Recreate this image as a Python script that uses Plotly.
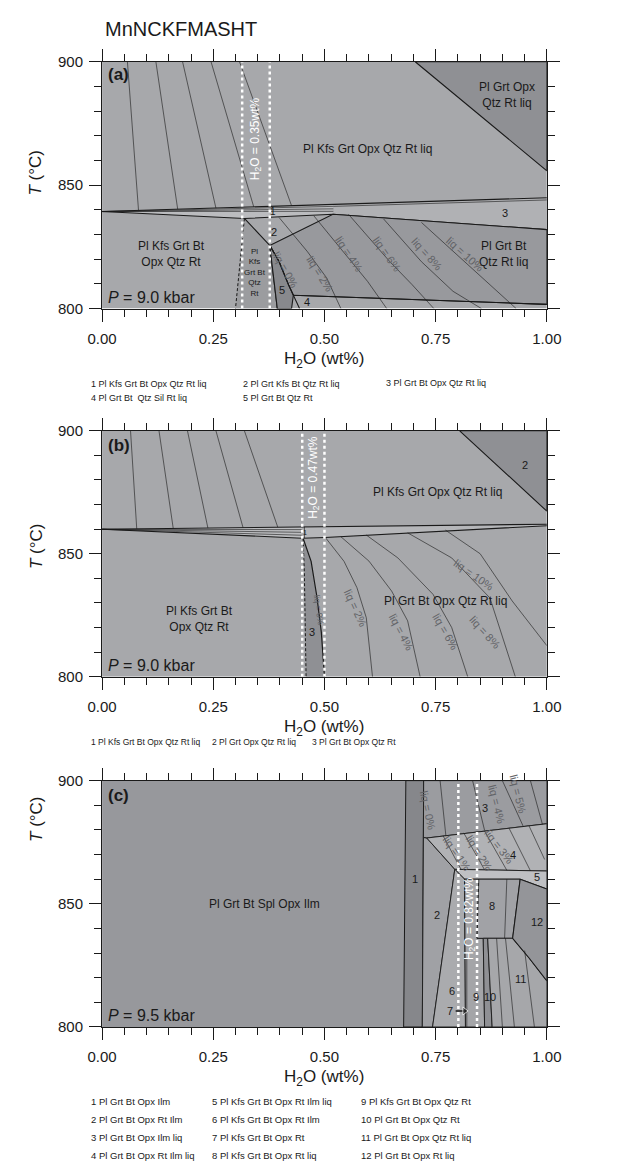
import plotly.graph_objects as go

W, H = 618, 1170
FONT = "Liberation Sans, Arial, Helvetica, sans-serif"

# ---------------- tick labels ----------------
X_TICKS = [0.0, 0.25, 0.5, 0.75, 1.0]
X_TICK_TEXT = ["0.00", "0.25", "0.50", "0.75", "1.00"]
T_TICKS = [800, 850, 900]

# ---------------- panel (a) data: (H2O wt%, T °C) ----------------
A_OPX_FIELD = [(0.704, 900), (1, 900), (1, 855.8)]
A_BAND_LEFT = [(0, 839.3), (0.30, 841.0), (0.52, 842.2), (0.519, 838.2), (0.32, 836.5)]
A_FIELD3 = [(0.519, 838.2), (0.52, 842.2), (1, 844.9), (1, 832)]
A_TOP_LINE = [(0, 839.3), (1, 844.9)]
A_BASE_LINE = [(0, 839.3), (0.32, 836.5), (0.519, 838.2), (1, 832)]
A_BAND_LINES = [
    [(0, 839.3), (0.52, 841.4), (1, 844.0)],
    [(0, 839.3), (0.52, 840.4)],
    [(0, 839.3), (0.52, 839.4)],
]
A_KFS_BT = [(0.32, 836.5), (0.377, 825.6), (0.394, 800), (0.30, 800)]
A_FIELD5 = [(0.377, 825.6), (0.394, 800), (0.426, 800), (0.43, 805.4), (0.419, 809.7), (0.398, 819)]
A_GRT_BT_LIQ = [(0.377, 825.6), (0.519, 838.2), (1, 832), (1, 801.7), (0.43, 805.4),
                (0.419, 809.7), (0.398, 819)]
A_LIQ0 = [(0.377, 825.6), (0.398, 819), (0.419, 809.7), (0.43, 805.4), (0.444, 800)]
A_FIELD4_TOP = [(0.43, 805.4), (1, 801.7)]
A_UPPER_ISO = [
    [(0.057, 900), (0.082, 839.8)],
    [(0.121, 900), (0.170, 840.3)],
    [(0.181, 900), (0.256, 840.7)],
    [(0.245, 900), (0.341, 841.2)],
    [(0.309, 900), (0.426, 841.7)],
]
A_LOWER_ISO = [
    [(0.398, 836.9), (0.462, 823), (0.505, 812.4), (0.537, 800)],
    [(0.476, 837.6), (0.554, 820.3), (0.597, 811), (0.640, 800)],
    [(0.554, 838.2), (0.647, 819), (0.697, 809.7), (0.746, 800)],
    [(0.633, 836.3), (0.718, 819), (0.789, 807), (0.853, 800)],
    [(0.718, 834.9), (0.824, 817.7), (0.896, 805.7), (0.931, 800)],
]
A_DOTTED = [0.315, 0.377]
A_LIQ_LABELS = [("liq = 0%", 0.412, 815.5, 60), ("liq = 2%", 0.49, 814, 58),
                ("liq = 4%", 0.555, 822, 56), ("liq = 6%", 0.64, 822, 55),
                ("liq = 8%", 0.73, 822, 48), ("liq = 10%", 0.815, 822, 42)]
A_LABELS = [("Pl Grt Opx<br>Qtz Rt liq", 0.91, 886.5, 12), ("Pl Kfs Grt Opx Qtz Rt liq", 0.597, 864.5, 12),
            ("3", 0.906, 838.7, 11), ("1", 0.384, 839.2, 10), ("2", 0.386, 831, 11),
            ("Pl Kfs Grt Bt<br>Opx Qtz Rt", 0.156, 822.3, 12),
            ("5", 0.404, 807.5, 11), ("4", 0.46, 802.6, 11),
            ("Pl Grt Bt<br>Qtz Rt liq", 0.902, 822.3, 12)]
A_SMALL_LABEL = ("Pl<br>Kfs<br>Grt Bt<br>Qtz<br>Rt", 0.343, 814.5)

# ---------------- panel (b) data ----------------
B_OPX_FIELD = [(0.804, 900), (1, 900), (1, 867.3)]
B_BAND_LEFT = [(0, 859.95), (0.45, 860.9), (0.45, 856.3)]
B_BAND_RIGHT = [(0.455, 860.9), (1, 862.0), (1, 861.4), (0.502, 856.6), (0.455, 856.4)]
B_BAND_LINES = [[(0, 859.95), (0.45, 857.5)], [(0, 859.95), (0.45, 858.7)],
                [(0, 859.95), (0.45, 859.8)], [(0.45, 856.3), (0.455, 856.4), (0.455, 860.9)]]
B_TOP_LINE = [(0, 859.95), (1, 862.0)]
B_BASE_LINE = [(0, 859.95), (0.45, 856.3), (0.502, 856.6), (1, 861.4)]
B_FIELD3 = [(0.452, 856.3), (0.4547, 843), (0.4587, 800), (0.50, 800), (0.493, 818),
            (0.483, 832.5), (0.47, 846.9)]
B_UPPER_ISO = [
    [(0.064, 900), (0.078, 860.1)],
    [(0.128, 900), (0.160, 860.3)],
    [(0.192, 900), (0.238, 860.4)],
    [(0.256, 900), (0.317, 860.6)],
    [(0.320, 900), (0.395, 860.8)],
]
B_LOWER_ISO = [
    [(0.502, 856.6), (0.544, 846.9), (0.573, 836.2), (0.594, 824), (0.608, 800)],
    [(0.537, 856.9), (0.600, 847), (0.651, 834.8), (0.687, 822.7), (0.715, 800)],
    [(0.594, 857.6), (0.665, 848.3), (0.744, 833.5), (0.786, 820), (0.822, 800)],
    [(0.687, 858.5), (0.786, 848.3), (0.872, 832), (0.929, 800)],
    [(0.772, 859.6), (0.85, 850), (0.922, 830.8), (1, 812.6)],
]
B_DOTTED = [0.45, 0.50]
B_LIQ_LABELS = [("liq = 0%", 0.487, 827, 82), ("liq = 2%", 0.57, 828, 65),
                ("liq = 4%", 0.672, 818, 62), ("liq = 6%", 0.772, 818, 60),
                ("liq = 8%", 0.86, 818, 48), ("liq = 10%", 0.836, 841.5, 35)]
B_LABELS = [("2", 0.95, 885.9, 11), ("Pl Kfs Grt Opx Qtz Rt liq", 0.754, 874.9, 12),
            ("Pl Grt Bt Opx Qtz Rt liq", 0.772, 830.8, 12),
            ("Pl Kfs Grt Bt<br>Opx Qtz Rt", 0.22, 823.4, 12), ("3", 0.473, 818, 11)]

# ---------------- panel (c) data ----------------
C_STRIP1 = [(0.683, 900), (0.723, 900), (0.72, 800), (0.678, 800)]
C_FIELD3 = [(0.723, 900), (1, 900), (1, 882.5), (0.73, 876.7), (0.7225, 876.9)]
C_FIELD4 = [(0.73, 876.7), (1, 882.5), (1, 863.3), (0.793, 864)]
C_FIELD2 = [(0.7225, 876.9), (0.73, 876.7), (0.793, 864), (0.743, 800), (0.72, 800)]
C_FIELD5 = [(0.793, 864), (1, 863.3), (1, 856), (0.94, 860), (0.815, 860)]
C_FIELD6 = [(0.793, 864), (0.815, 860), (0.817, 800), (0.743, 800)]
C_FIELD9 = [(0.815, 860), (0.847, 860), (0.843, 836), (0.857, 836), (0.86, 800), (0.817, 800)]
C_FIELD8 = [(0.847, 860), (0.94, 860), (0.923, 836), (0.843, 836)]
C_FIELD10 = [(0.857, 836), (0.867, 836), (0.877, 800), (0.86, 800)]
C_FIELD11 = [(0.867, 836), (0.923, 836), (0.96, 828), (1, 818.7), (1, 800), (0.877, 800)]
C_FIELD12 = [(0.94, 860), (1, 856), (1, 818.7), (0.96, 828), (0.923, 836)]
C_ISO = [
    [(0.76, 900), (0.773, 877.6)],
    [(0.833, 900), (0.86, 879.8)],
    [(0.90, 900), (0.947, 881.4)],
    [(0.963, 900), (0.99, 882.3)],
    [(0.767, 877.5), (0.807, 864)],
    [(0.813, 878.8), (0.86, 863.8)],
    [(0.86, 879.5), (0.91, 863.6)],
    [(0.915, 880.7), (0.963, 863.4)],
    [(0.96, 881.6), (0.995, 868)],
    [(0.82, 828), (0.82, 800)],
    [(0.91, 860), (0.905, 836)],
    [(0.887, 836), (0.90, 800)],
    [(0.907, 836), (0.927, 800)],
    [(0.95, 831), (0.972, 800)],
]
C_DOTTED = [0.801, 0.843]
C_ARROW = [(0.795, 806.5), (0.815, 806.5)]
C_LIQ_LABELS = [("liq = 0%", 0.732, 888, 78), ("liq = 1%", 0.797, 870.5, 55),
                ("liq = 2%", 0.847, 870.5, 58), ("liq = 3%", 0.893, 873, 52),
                ("liq = 4%", 0.887, 890.5, 76), ("liq = 5%", 0.935, 894.5, 76)]
C_LABELS = [("Pl Grt Bt Spl Opx Ilm", 0.365, 850, 12), ("1", 0.703, 860, 11), ("2", 0.753, 845.6, 11),
            ("3", 0.86, 888.7, 11), ("4", 0.923, 870, 11), ("5", 0.977, 860.7, 11),
            ("6", 0.787, 814.7, 11), ("7", 0.782, 806.5, 11), ("8", 0.877, 849.3, 11),
            ("9", 0.84, 812, 11), ("10", 0.873, 812, 11), ("11", 0.94, 819.3, 11),
            ("12", 0.977, 842.7, 11)]

# ---------------- legends below panels (screen px) ----------------
LEG_A = [("1 Pl Kfs Grt Bt Opx Qtz Rt liq", 78, 381), ("2 Pl Grt Kfs Bt Qtz Rt liq", 238, 381),
         ("3 Pl Grt Bt Opx Qtz Rt liq", 388, 380), ("4 Pl Grt Bt  Qtz Sil Rt liq", 78, 395),
         ("5 Pl Grt Bt Qtz Rt", 238, 395)]
LEG_B = [("1 Pl Kfs Grt Bt Opx Qtz Rt liq", 78, 744), ("2 Pl Grt Opx Qtz Rt liq", 205, 744),
         ("3 Pl Grt Bt Opx Qtz Rt", 310, 744)]
LEG_C = [("1 Pl Grt Bt Opx Ilm", 78, 1109), ("2 Pl Grt Bt Opx Rt Ilm", 78, 1127),
         ("3 Pl Grt Bt Opx Ilm liq", 78, 1145), ("4 Pl Grt Bt Opx Rt Ilm liq", 78, 1163),
         ("5 Pl Kfs Grt Bt Opx Rt Ilm liq", 205, 1109), ("6 Pl Kfs Grt Bt Opx Rt Ilm", 205, 1127),
         ("7 Pl Kfs Grt Bt Opx Rt", 205, 1145), ("8 Pl Kfs Grt Bt Opx Rt liq", 205, 1163),
         ("9 Pl Kfs Grt Bt Opx Qtz Rt", 362, 1109), ("10 Pl Grt Bt Opx Qtz Rt", 362, 1127),
         ("11 Pl Grt Bt Opx Qtz Rt liq", 362, 1145), ("12 Pl Grt Bt Opx Rt liq", 362, 1163)]

# ---------------- layout geometry (screen pixels) ----------------
X0, X1 = 91.5, 559
PANEL_Y = {"a": (53.5, 304), "b": (428, 677.5), "c": (783, 1033)}
YTITLE_Y = {"a": 166, "b": 545, "c": 822}
AXES = {"a": ("x", "y"), "b": ("x2", "y2"), "c": ("x3", "y3")}


def px_x(px):
    return px / W


def px_y(py):
    return 1 - py / H


fig = go.Figure()
annotations = []


def add_poly(p, pts, color, lw=0.9, dash=None):
    xr, yr = AXES[p]
    xs = [q[0] for q in pts] + [pts[0][0]]
    ys = [q[1] for q in pts] + [pts[0][1]]
    fig.add_trace(go.Scatter(x=xs, y=ys, xaxis=xr, yaxis=yr, mode="lines", fill="toself",
                             fillcolor=color, line=dict(color="#1a1a1a", width=lw, dash=dash),
                             hoverinfo="skip", showlegend=False))


def add_line(p, pts, lw=0.7, color="#1a1a1a", dash=None):
    xr, yr = AXES[p]
    fig.add_trace(go.Scatter(x=[q[0] for q in pts], y=[q[1] for q in pts], xaxis=xr, yaxis=yr,
                             mode="lines", line=dict(color=color, width=lw, dash=dash),
                             hoverinfo="skip", showlegend=False))


def add_text(p, text, x, y, size=11, color="#1a1a1a", angle=0, **kw):
    xr, yr = AXES[p]
    annotations.append(dict(text=text, x=x, y=y, xref=xr, yref=yr, showarrow=False,
                            textangle=angle, font=dict(family=FONT, size=size, color=color), **kw))


def paper_text(text, px, py, size=9, xanchor="left", angle=0, color="#1a1a1a"):
    annotations.append(dict(text=text, x=px_x(px), y=px_y(py), xref="paper", yref="paper",
                            showarrow=False, xanchor=xanchor, yanchor="middle", textangle=angle,
                            font=dict(family=FONT, size=size, color=color)))


LIGHT = "#a7a8ab"
DARK = "#8f9094"
ISO_GRAY = "#626367"

# ----- panel a -----
add_poly("a", [(0, 800), (1, 800), (1, 900), (0, 900)], LIGHT, lw=0)
add_poly("a", A_OPX_FIELD, DARK, lw=1.1)
add_poly("a", A_BAND_LEFT, "#bbbcbf", lw=0)
add_poly("a", A_FIELD3, "#b0b1b4", lw=0)
add_line("a", A_TOP_LINE, lw=1.1)
add_line("a", A_BASE_LINE, lw=1.1)
for ln in A_BAND_LINES:
    add_line("a", ln, lw=0.6)
add_poly("a", A_GRT_BT_LIQ, "#98999d", lw=1.1)
add_poly("a", A_KFS_BT, "#9b9c9f", lw=0)
add_line("a", [A_KFS_BT[0], A_KFS_BT[3]], lw=1.0, dash="3px,2px")
add_line("a", A_KFS_BT[:3], lw=1.1)
add_poly("a", A_FIELD5, "#88898d", lw=1.1)
add_line("a", A_LIQ0, lw=1.1)
add_line("a", A_FIELD4_TOP, lw=1.1)
for ln in A_UPPER_ISO + A_LOWER_ISO:
    add_line("a", ln, lw=0.6)
for xv in A_DOTTED:
    add_line("a", [(xv, 800), (xv, 900)], lw=2.5, color="white", dash="dot")
for t, x, y, ang in A_LIQ_LABELS:
    add_text("a", t, x, y, size=11, color=ISO_GRAY, angle=ang)
for t, x, y, s in A_LABELS:
    add_text("a", t, x, y, size=s)
add_text("a", A_SMALL_LABEL[0], A_SMALL_LABEL[1], A_SMALL_LABEL[2], size=8)
add_text("a", "H<sub>2</sub>O = 0.35wt%", 0.346, 869, size=12, color="white", angle=-90)
add_text("a", "<b>(a)</b>", 0.008, 895, size=17, xanchor="left")
add_text("a", "<i>P</i> = 9.0 kbar", 0.008, 804.5, size=16, xanchor="left")

# ----- panel b -----
add_poly("b", [(0, 800), (1, 800), (1, 900), (0, 900)], LIGHT, lw=0)
add_poly("b", B_OPX_FIELD, DARK, lw=1.1)
add_poly("b", B_BAND_LEFT, "#bbbcbf", lw=0)
add_poly("b", B_BAND_RIGHT, "#b5b6b9", lw=0)
add_line("b", B_TOP_LINE, lw=1.1)
add_line("b", B_BASE_LINE, lw=1.1)
for ln in B_BAND_LINES:
    add_line("b", ln, lw=0.6)
add_poly("b", B_FIELD3, "#8f9094", lw=0)
add_line("b", B_FIELD3[:3], lw=1.0, dash="3px,2px")
add_line("b", B_FIELD3[3:] + [B_FIELD3[0]], lw=1.2)
for ln in B_UPPER_ISO + B_LOWER_ISO:
    add_line("b", ln, lw=0.6)
for xv in B_DOTTED:
    add_line("b", [(xv, 800), (xv, 900)], lw=2.5, color="white", dash="dot")
for t, x, y, ang in B_LIQ_LABELS:
    add_text("b", t, x, y, size=11 if t != "liq = 0%" else 8.5, color=ISO_GRAY, angle=ang)
for t, x, y, s in B_LABELS:
    add_text("b", t, x, y, size=s)
add_text("b", "1", 0.456, 858.6, size=7)
add_text("b", "H<sub>2</sub>O = 0.47wt%", 0.475, 881, size=12, color="white", angle=-90)
add_text("b", "<b>(b)</b>", 0.008, 894, size=17, xanchor="left")
add_text("b", "<i>P</i> = 9.0 kbar", 0.008, 804.5, size=16, xanchor="left")

# ----- panel c -----
add_poly("c", [(0, 800), (1, 800), (1, 900), (0, 900)], "#97989c", lw=0)
add_poly("c", C_STRIP1, "#86878b", lw=1.0)
add_poly("c", C_FIELD3, "#9b9ca0", lw=0.9)
add_poly("c", C_FIELD2, "#a0a1a5", lw=0.9)
add_poly("c", C_FIELD4, "#b1b2b5", lw=0.9)
add_poly("c", C_FIELD5, "#bfc0c3", lw=0.9)
add_poly("c", C_FIELD6, "#aaabae", lw=0.9)
add_poly("c", C_FIELD9, "#a4a5a8", lw=0.9)
add_poly("c", C_FIELD8, "#a1a2a6", lw=0.9)
add_poly("c", C_FIELD10, "#8f9094", lw=0.9)
add_poly("c", C_FIELD11, "#a6a7aa", lw=0.9)
add_poly("c", C_FIELD12, "#949599", lw=1.1)
for ln in C_ISO:
    add_line("c", ln, lw=0.6)
for xv in C_DOTTED:
    add_line("c", [(xv, 800), (xv, 900)], lw=2.5, color="white", dash="dot")
fig.add_trace(go.Scatter(x=[q[0] for q in C_ARROW], y=[q[1] for q in C_ARROW], xaxis="x3", yaxis="y3",
                         mode="lines+markers", line=dict(color="#1a1a1a", width=1.4),
                         marker=dict(symbol=["line-ns", "triangle-right"], size=[0, 7],
                                     color="#1a1a1a"),
                         hoverinfo="skip", showlegend=False))
for t, x, y, ang in C_LIQ_LABELS:
    add_text("c", t, x, y, size=11, color=ISO_GRAY, angle=ang)
for t, x, y, s in C_LABELS:
    add_text("c", t, x, y, size=s)
add_text("c", "H<sub>2</sub>O = 0.82wt%", 0.826, 844, size=12, color="white", angle=-90)
add_text("c", "<b>(c)</b>", 0.008, 894, size=17, xanchor="left")
add_text("c", "<i>P</i> = 9.5 kbar", 0.008, 804.5, size=16, xanchor="left")

# ----- outer texts -----
paper_text("MnNCKFMASHT", 92, 20, size=20)
for key, (top, bot) in PANEL_Y.items():
    paper_text("<i>T</i> (°C)", 22, YTITLE_Y[key], size=17, xanchor="center", angle=-90)
    paper_text("H<sub>2</sub>O (wt%)", (X0 + X1) / 2, bot + 52, size=17, xanchor="center")
for t, px, py in LEG_A:
    paper_text(t, px, py, size=9)
for t, px, py in LEG_B:
    paper_text(t, px, py, size=8.5)
for t, px, py in LEG_C:
    paper_text(t, px, py, size=9.5)

layout = dict(width=W, height=H, margin=dict(l=0, r=0, t=0, b=0), plot_bgcolor="white",
              paper_bgcolor="white", showlegend=False, annotations=annotations,
              font=dict(family=FONT, color="#1a1a1a"))
for key, (xr, yr) in AXES.items():
    top, bot = PANEL_Y[key]
    xname = "xaxis" if xr == "x" else "xaxis" + xr[1:]
    yname = "yaxis" if yr == "y" else "yaxis" + yr[1:]
    layout[xname] = dict(domain=[px_x(X0), px_x(X1)], range=[0, 1], anchor=yr, showgrid=False,
                         zeroline=False, showline=True, linecolor="#1a1a1a", linewidth=1,
                         mirror="allticks", ticks="outside", ticklen=12, tickcolor="#1a1a1a",
                         tickvals=X_TICKS, ticktext=X_TICK_TEXT, tickfont=dict(size=15, family=FONT),
                         ticklabelstandoff=4,
                         minor=dict(dtick=0.05, tick0=0, ticklen=7, ticks="outside",
                                    tickcolor="#1a1a1a", showgrid=False))
    layout[yname] = dict(domain=[px_y(bot), px_y(top)], range=[800, 900], anchor=xr,
                         showgrid=False, zeroline=False, showline=True, linecolor="#1a1a1a",
                         linewidth=1, mirror="allticks", ticks="outside", ticklen=12,
                         tickcolor="#1a1a1a", tickvals=T_TICKS, tickfont=dict(size=15, family=FONT),
                         ticklabelstandoff=3,
                         minor=dict(dtick=10, tick0=800, ticklen=7, ticks="outside",
                                    tickcolor="#1a1a1a", showgrid=False))
fig.update_layout(**layout)
fig.write_html("out.html")
